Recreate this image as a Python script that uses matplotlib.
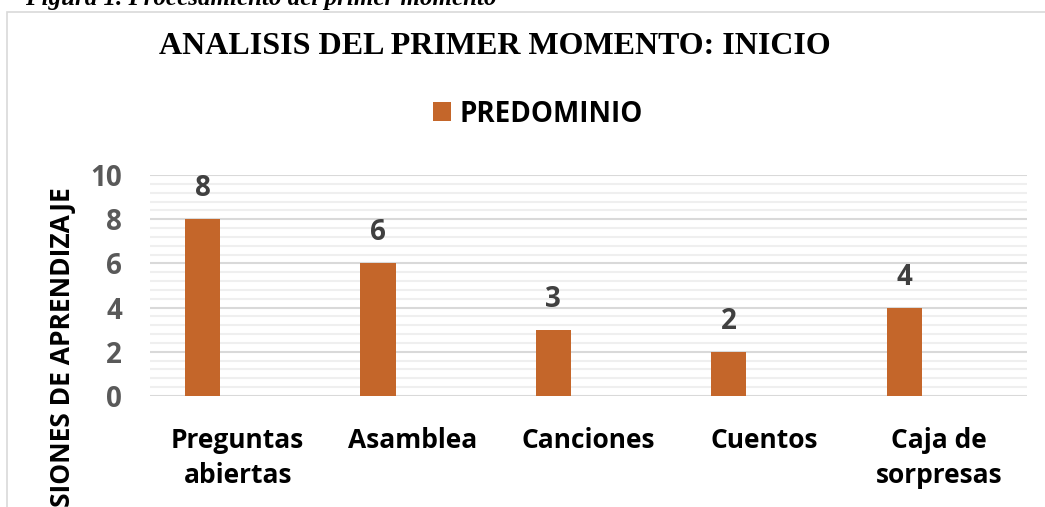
import numpy as np
import matplotlib
matplotlib.use('Agg')
import matplotlib.pyplot as plt
from matplotlib.patches import Patch, Rectangle

# data
categories = ['Preguntas\nabiertas', 'Asamblea', 'Canciones', 'Cuentos', 'Caja de\nsorpresas']
predominio = [8, 6, 3, 2, 4]
series_name = 'PREDOMINIO'
title = 'ANALISIS DEL PRIMER MOMENTO: INICIO'
ylabel = 'SESIONES DE APRENDIZAJE'
caption = 'Figura 1. Procesamiento del primer momento'

W, H = 1045, 507
BAR_COLOR = '#c4662a'
SANS = ['Open Sans', 'DejaVu Sans']
SERIF = ['Liberation Serif', 'DejaVu Serif']


def px_x(x):
    return x / W


def px_y(y):
    return 1 - y / H


fig = plt.figure(figsize=(W / 100, H / 100), dpi=100)
fig.patch.set_facecolor('white')

# chart frame (runs off right and bottom edges like the cropped original)
fig.patches.append(Rectangle((px_x(7), -0.2), 1.2, px_y(12) + 0.2,
                             transform=fig.transFigure, fill=False,
                             edgecolor='#d9d9d9', linewidth=1.2))

# cropped caption above the frame
fig.text(px_x(25), px_y(5), caption, family=SERIF, fontsize=18,
         fontweight='bold', style='italic', va='baseline', ha='left')

ax = fig.add_axes([px_x(150), px_y(396), px_x(1027) - px_x(150),
                   px_y(175) - px_y(396)])

x = np.arange(len(categories))
width = 0.2
bars = ax.bar(x - width, predominio, width=width, color=BAR_COLOR, zorder=3)

for rect, v in zip(bars, predominio):
    ax.annotate(str(v), (rect.get_x() + rect.get_width() / 2, v),
                xytext=(0, 11.5), textcoords='offset points',
                ha='center', va='bottom', fontsize=20, fontweight='bold',
                color='#404040', family=SANS)

ax.set_xlim(-0.5, len(categories) - 0.5)
ax.set_ylim(0, 10)
ax.set_yticks(np.arange(0, 11, 2))
ax.set_yticks(np.arange(0, 10.01, 0.4), minor=True)
ax.grid(axis='y', which='major', color='#d9d9d9', linewidth=1.5, zorder=0)
ax.grid(axis='y', which='minor', color='#efefef', linewidth=1.5, zorder=0)

ax.set_xticks(x)
ax.set_xticklabels(categories, fontsize=19, fontweight='bold',
                   family=SANS, color='black', linespacing=1.4)
for lbl in ax.get_yticklabels():
    lbl.set_fontsize(20)
    lbl.set_fontweight('bold')
    lbl.set_family(SANS)
    lbl.set_color('#595959')

ax.tick_params(axis='x', length=0, pad=22)
ax.tick_params(axis='y', which='both', length=0, pad=20)
for side in ['top', 'right', 'left', 'bottom']:
    ax.spines[side].set_visible(False)

# title and legend
fig.text(0.474, px_y(47), title, family=SERIF, fontsize=23,
         fontweight='bold', ha='center', va='center')

fig.legend(handles=[Patch(facecolor=BAR_COLOR, label=series_name)],
           loc='center', bbox_to_anchor=(px_x(538), px_y(114)),
           frameon=False, handlelength=0.65, handleheight=0.65,
           handletextpad=0.3, prop={'family': SANS, 'weight': 'bold', 'size': 20})

# y axis title, cut off at the bottom like the original
fig.text(px_x(63), px_y(362), ylabel, rotation=90, family=SANS,
         fontsize=19, fontweight='bold', ha='center', va='center')

fig.savefig('out.png', dpi=100)
